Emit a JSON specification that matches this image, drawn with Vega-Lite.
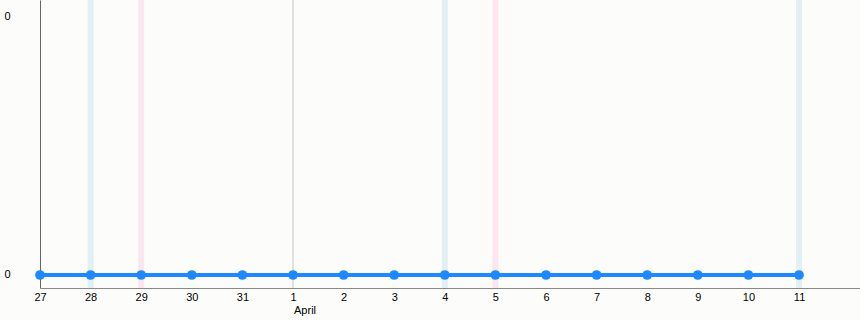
{
  "$schema": "https://vega.github.io/schema/vega-lite/v6.json",
  "autosize": "none",
  "width": 820,
  "height": 288,
  "padding": {"left": 40, "top": 0, "right": 0, "bottom": 32},
  "background": "#fcfdfa",
  "config": {
    "font": "Liberation Sans",
    "view": {"stroke": null},
    "axis": {"labelFont": "Liberation Sans", "labelFontSize": 11, "labelColor": "#000000", "grid": false}
  },
  "datasets": {
    "series": [
      {"date": "2015-03-27", "value": 0},
      {"date": "2015-03-28", "value": 0},
      {"date": "2015-03-29", "value": 0},
      {"date": "2015-03-30", "value": 0},
      {"date": "2015-03-31", "value": 0},
      {"date": "2015-04-01", "value": 0},
      {"date": "2015-04-02", "value": 0},
      {"date": "2015-04-03", "value": 0},
      {"date": "2015-04-04", "value": 0},
      {"date": "2015-04-05", "value": 0},
      {"date": "2015-04-06", "value": 0},
      {"date": "2015-04-07", "value": 0},
      {"date": "2015-04-08", "value": 0},
      {"date": "2015-04-09", "value": 0},
      {"date": "2015-04-10", "value": 0},
      {"date": "2015-04-11", "value": 0}
    ],
    "weekends": [
      {"date": "2015-03-28", "kind": "Saturday"},
      {"date": "2015-03-29", "kind": "Sunday"},
      {"date": "2015-04-04", "kind": "Saturday"},
      {"date": "2015-04-05", "kind": "Sunday"},
      {"date": "2015-04-11", "kind": "Saturday"}
    ],
    "months": [
      {"date": "2015-04-01", "label": "April"}
    ]
  },
  "layer": [
    {
      "data": {"name": "weekends"},
      "mark": {"type": "rule", "strokeWidth": 6},
      "encoding": {
        "x": {"field": "date", "type": "temporal", "scale": {"type": "utc"}},
        "color": {"field": "kind", "type": "nominal", "scale": {"domain": ["Saturday", "Sunday"], "range": ["#e2f0f4", "#fce6ef"]}, "legend": null}
      }
    },
    {
      "data": {"name": "months"},
      "mark": {"type": "rule", "strokeWidth": 1, "color": "#c4c4c4"},
      "encoding": {
        "x": {"field": "date", "type": "temporal"}
      }
    },
    {
      "data": {"name": "series"},
      "mark": {"type": "line", "color": "#1e88ff", "strokeWidth": 4, "point": {"filled": true, "size": 95, "color": "#1e88ff", "opacity": 1}},
      "encoding": {
        "x": {
          "field": "date", "type": "temporal",
          "scale": {"type": "utc", "domain": [{"year": 2015, "month": 3, "date": 27, "utc": true}, {"year": 2015, "month": 4, "date": 12, "hours": 4, "minutes": 55, "utc": true}]},
          "axis": {"title": null, "format": "%-d", "tickCount": {"interval": "day", "step": 1}, "labelExpr": "utcdate(datum.value) == 12 ? '' : datum.label", "ticks": false, "labelPadding": 3, "domainColor": "#888888", "labelFlush": false, "labelOverlap": false}
        },
        "y": {
          "field": "value", "type": "quantitative",
          "scale": {"domain": [-0.0502, 1.0618], "nice": false, "zero": false},
          "axis": {"title": null, "values": [0, 1], "labelExpr": "'0'", "ticks": false, "labelPadding": 30, "domainColor": "#666666"}
        }
      }
    },
    {
      "data": {"name": "months"},
      "mark": {"type": "text", "align": "left", "baseline": "middle", "dx": 1, "dy": 23, "fontSize": 11, "color": "#000000"},
      "encoding": {
        "x": {"field": "date", "type": "temporal"},
        "y": {"datum": -0.0502, "type": "quantitative"},
        "text": {"field": "label"}
      }
    }
  ]
}
